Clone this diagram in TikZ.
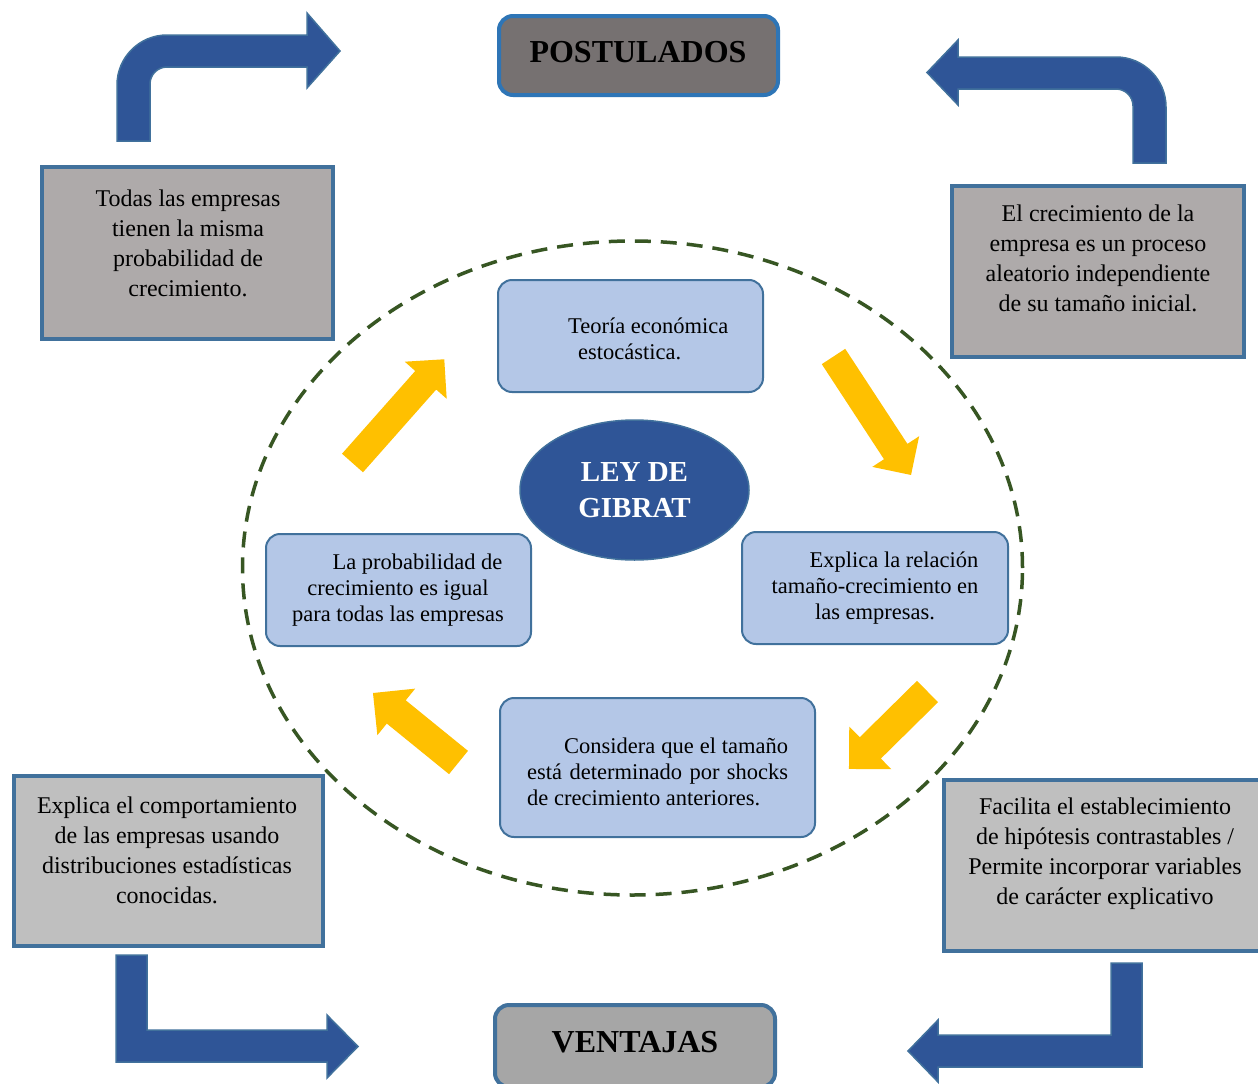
\documentclass[tikz,border=0pt]{standalone}
\usepackage{fontspec}
\setmainfont{Liberation Serif}
\usetikzlibrary{shapes.geometric}

\definecolor{bandblue}{HTML}{2F5597}
\definecolor{edgeblue}{HTML}{41719C}
\definecolor{brightedge}{HTML}{2E75B6}
\definecolor{darkgray}{HTML}{767171}
\definecolor{midgray}{HTML}{A6A6A6}
\definecolor{stonegray}{HTML}{AEAAAA}
\definecolor{lightgray}{HTML}{BFBFBF}
\definecolor{paleblue}{HTML}{B4C7E7}
\definecolor{gold}{HTML}{FFC000}
\definecolor{forest}{HTML}{375623}

% straight block arrow: tail point (#1,#2), angle #3, length #4, shaft width #5, head width #6
\newcommand\flatarrow[6]{%
  \begin{scope}[shift={(#1,#2)},rotate=#3]
    \fill[gold] (0,{-#5/2}) -- ({#4-#6/2},{-#5/2}) -- ({#4-#6/2},{-#6/2}) -- (#4,0)
      -- ({#4-#6/2},{#6/2}) -- ({#4-#6/2},{#5/2}) -- (0,{#5/2}) -- cycle;
  \end{scope}}

\begin{document}
\begin{tikzpicture}[x=1pt,y=-1pt,
  titlebox/.style={draw, line width=4pt, rounded corners=14pt, inner sep=0pt},
  notebox/.style={draw=edgeblue, line width=4pt, inner sep=0pt},
  stagebox/.style={draw=edgeblue, fill=paleblue, line width=2pt, rounded corners=14pt, inner sep=0pt},
  notetext/.style={align=center, inner sep=0pt, font=\fontsize{24}{30}\selectfont},
  stagetext/.style={inner sep=0pt, font=\fontsize{22.5}{26}\selectfont},
  bentarrow/.style={fill=bandblue, draw=edgeblue, line width=1.5pt, line join=miter}]

\useasboundingbox (0,0) rectangle (1258,1084);
\clip (0,0) rectangle (1258,1084);
\fill[white] (0,0) rectangle (1258,1084);

% dashed cycle
\draw[forest, line width=3.5pt, dash pattern=on 16pt off 10pt]
  (632.5,568) ellipse [x radius=390pt, y radius=327pt];

% central ellipse
\node[ellipse, fill=bandblue, draw=edgeblue, line width=1.5pt,
      minimum width=229pt, minimum height=140pt, inner sep=0pt,
      align=center, text=white, font=\bfseries\fontsize{29}{36}\selectfont]
  (ley) at (634.5,490) {LEY DE\\GIBRAT};

% title boxes
\node[titlebox, draw=brightedge, fill=darkgray, minimum width=279pt, minimum height=79pt] (post) at (638.5,55.5) {};
\node[font=\bfseries\fontsize{32}{36}\selectfont, inner sep=0pt] (posttxt) at (638,52) {POSTULADOS};
\node[titlebox, draw=edgeblue, fill=midgray, minimum width=280pt, minimum height=82pt] (vent) at (635,1046) {};
\node[font=\bfseries\fontsize{32}{36}\selectfont, inner sep=0pt] (venttxt) at (635,1042) {VENTAJAS};

% note boxes
\node[notebox, fill=stonegray, minimum width=291pt, minimum height=172pt] (tl) at (187.5,253) {};
\node[notetext] (tltxt) at (188,243) {Todas las empresas\\tienen la misma\\probabilidad de\\crecimiento.};

\node[notebox, fill=stonegray, minimum width=292pt, minimum height=171pt] (tr) at (1098,271.5) {};
\node[notetext] (trtxt) at (1098,258) {El crecimiento de la\\empresa es un proceso\\aleatorio independiente\\de su tamaño inicial.};

\node[notebox, fill=lightgray, minimum width=309pt, minimum height=170pt] (bl) at (168.5,861) {};
\node[notetext] (bltxt) at (167,850) {Explica el comportamiento\\de las empresas usando\\distribuciones estadísticas\\conocidas.};

\node[notebox, fill=lightgray, minimum width=326pt, minimum height=171pt] (br) at (1107,865.5) {};
\node[notetext] (brtxt) at (1105,854) {Facilita el establecimiento\\de hipótesis contrastables /\\Permite incorporar variables\\de carácter explicativo};

% stage boxes of the cycle
\node[stagebox, minimum width=265pt, minimum height=112pt] (s1) at (630.5,336) {};
\node[stagetext, align=left, anchor=west] (s1txt) at (568,339) {Teoría económica\\\hspace*{10pt}estocástica.};

\node[stagebox, minimum width=266pt, minimum height=112pt] (s2) at (875,588) {};
\node[stagetext, align=center] (s2txt) at (875,588) {\hspace*{38pt}Explica la relación\\tamaño-crecimiento en\\las empresas.};

\node[stagebox, minimum width=315pt, minimum height=139pt] (s3) at (657.5,767.5) {};
\node[stagetext, align=left, anchor=west] (s3txt) at (527,772)
  {\makebox[261pt][s]{\hspace*{37pt}Considera que el tamaño}\\
   \makebox[261pt][s]{está determinado por shocks}\\
   de crecimiento anteriores.};

\node[stagebox, minimum width=265pt, minimum height=112pt] (s4) at (398.5,590) {};
\node[stagetext, align=center] (s4txt) at (398,590) {\hspace*{39pt}La probabilidad de\\crecimiento es igual\\para todas las empresas};

% cycle arrows
\flatarrow{352.5}{463}{48.5}{138.5}{28}{56}
\flatarrow{833.5}{356.5}{-56.8}{141.6}{28}{56}
\flatarrow{927.5}{691.5}{224.6}{110.3}{30}{60}
\flatarrow{458.5}{762.5}{140.9}{110.2}{30}{60}

% bent arrows to the title boxes
\draw[bentarrow] (117,141) -- (117,85) .. controls (117,57.4) and (139.4,35) .. (167,35)
  -- (307,35) -- (307,13) -- (340,51) -- (307,88) -- (307,67) -- (167,67)
  .. controls (157.6,67) and (150,74.6) .. (150,84) -- (150,141) -- cycle;
\draw[bentarrow] (927,72.5) -- (958,40) -- (958,57) -- (1116,57)
  .. controls (1143.6,57) and (1166,79.4) .. (1166,107) -- (1166,163) -- (1133,163)
  -- (1133,106) .. controls (1133,96.6) and (1125.4,89) .. (1116,89)
  -- (958,89) -- (958,105) -- cycle;
\draw[bentarrow] (116,955) -- (147,955) -- (147,1030) -- (327,1030) -- (327,1015)
  -- (358,1046.5) -- (327,1078) -- (327,1062) -- (116,1062) -- cycle;
\draw[bentarrow] (1111,963) -- (1142,963) -- (1142,1067) -- (938,1067) -- (938,1082)
  -- (908,1051) -- (938,1020) -- (938,1035) -- (1111,1035) -- cycle;

\end{tikzpicture}
\end{document}
